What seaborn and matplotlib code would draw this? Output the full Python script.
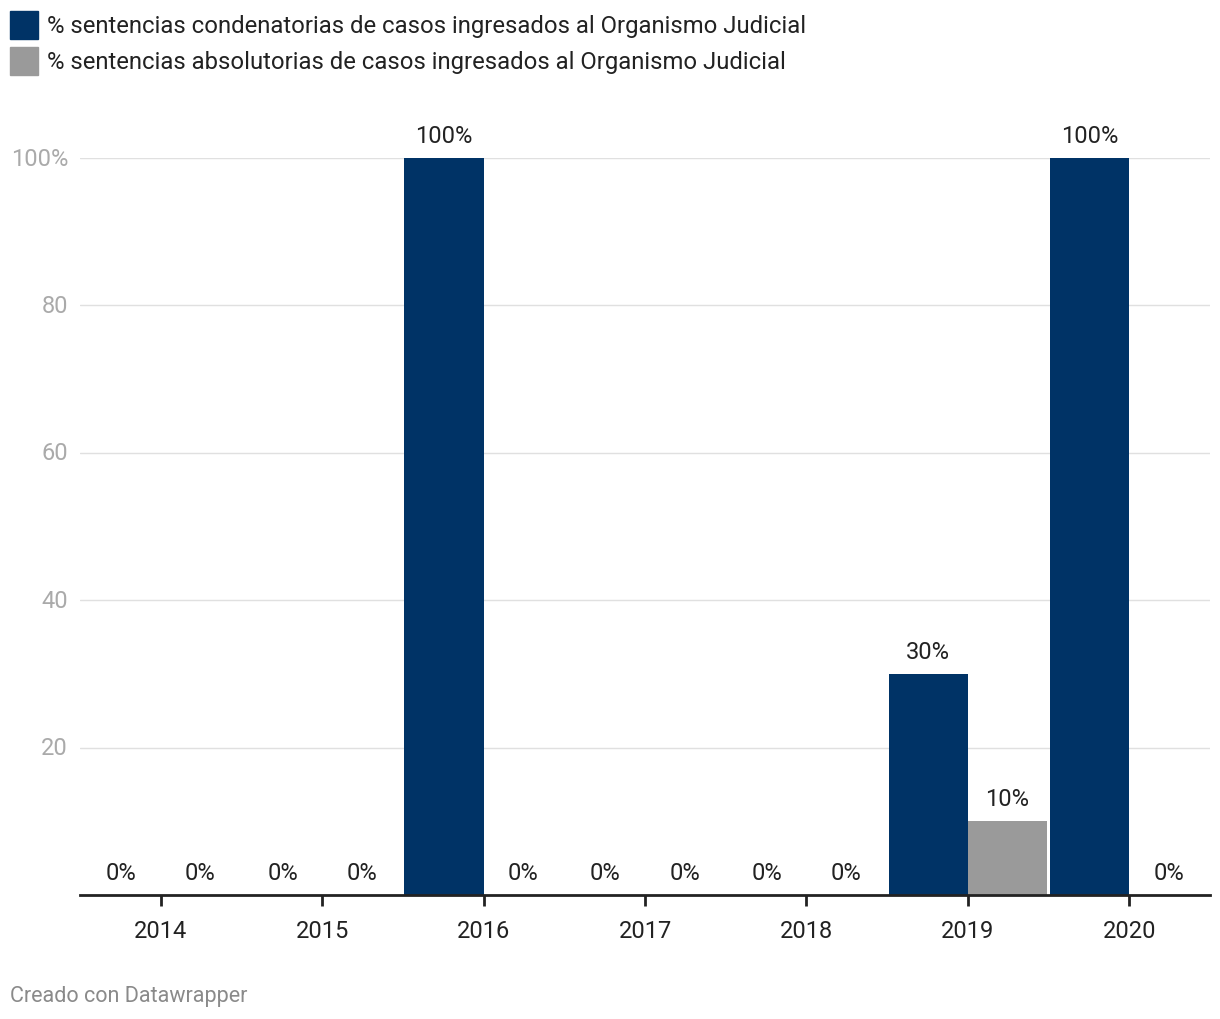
import matplotlib
matplotlib.use("Agg")
import matplotlib.pyplot as plt
import matplotlib.patches as mpatches
import matplotlib.transforms as mtransforms
import seaborn as sns
import pandas as pd

years = ["2014", "2015", "2016", "2017", "2018", "2019", "2020"]
condenatorias = [0, 0, 100, 0, 0, 30, 100]
absolutorias = [0, 0, 0, 0, 0, 10, 0]
series_names = [
    "% sentencias condenatorias de casos ingresados al Organismo Judicial",
    "% sentencias absolutorias de casos ingresados al Organismo Judicial",
]
colors = ["#003366", "#9a9a9a"]
y_ticks = [20, 40, 60, 80, 100]
y_tick_labels = ["20", "40", "60", "80", "100%"]

sns.set_style("white")
plt.rcParams["font.family"] = ["Roboto", "DejaVu Sans"]

df = pd.DataFrame({
    "year": years * 2,
    "value": condenatorias + absolutorias,
    "serie": [series_names[0]] * len(years) + [series_names[1]] * len(years),
})

fig = plt.figure(figsize=(12.2, 10.2), dpi=100)
ax = fig.add_axes([80 / 1220, 1 - 896 / 1020, 1130 / 1220, (896 - 159) / 1020])

sns.barplot(data=df, x="year", y="value", hue="serie", palette=colors,
            width=0.98, saturation=1, ax=ax, legend=False, linewidth=0)

ax.set_xlim(-0.5, len(years) - 0.5)
ax.set_ylim(0, 100)
ax.set_xlabel("")
ax.set_ylabel("")

# valores sobre las barras
for cont in ax.containers:
    for bar in cont:
        h = bar.get_height()
        ax.annotate(f"{h:.0f}%", (bar.get_x() + bar.get_width() / 2, h),
                    xytext=(0, 8), textcoords="offset points",
                    ha="center", va="bottom", fontsize=17, color="#222222",
                    annotation_clip=False)

# grid y ejes
ax.set_yticks(y_ticks)
ax.set_yticklabels([])
ax.tick_params(axis="y", length=0)
ax.grid(axis="y", color="#e0e0e0", linewidth=1)
ax.set_axisbelow(True)
for s in ["top", "right", "left"]:
    ax.spines[s].set_visible(False)
ax.spines["bottom"].set_linewidth(2)
ax.spines["bottom"].set_color("#222222")
ax.tick_params(axis="x", bottom=True, length=8, width=2, color="#222222", pad=9,
               labelsize=17, labelcolor="#222222")

trans = mtransforms.blended_transform_factory(fig.transFigure, ax.transData)
for v, lab in zip(y_ticks, y_tick_labels):
    ax.text(68 / 1220, v, lab, transform=trans,
            fontsize=17, color="#aaaaaa", ha="right", va="center")

# leyenda
for i, (name, c) in enumerate(zip(series_names, colors)):
    y0 = 1020 - 40 - i * 36
    fig.patches.append(mpatches.Rectangle((10 / 1220, y0 / 1020), 28 / 1220, 28 / 1020,
                                          transform=fig.transFigure, color=c, figure=fig))
    fig.text(47 / 1220, (y0 + 14) / 1020, name, fontsize=17.2, color="#222222",
             ha="left", va="center")

fig.text(10 / 1220, 1 - 997 / 1020, "Creado con Datawrapper", fontsize=15.5,
         color="#8a8a8a", ha="left", va="center")

fig.savefig("out.png", dpi=100)
